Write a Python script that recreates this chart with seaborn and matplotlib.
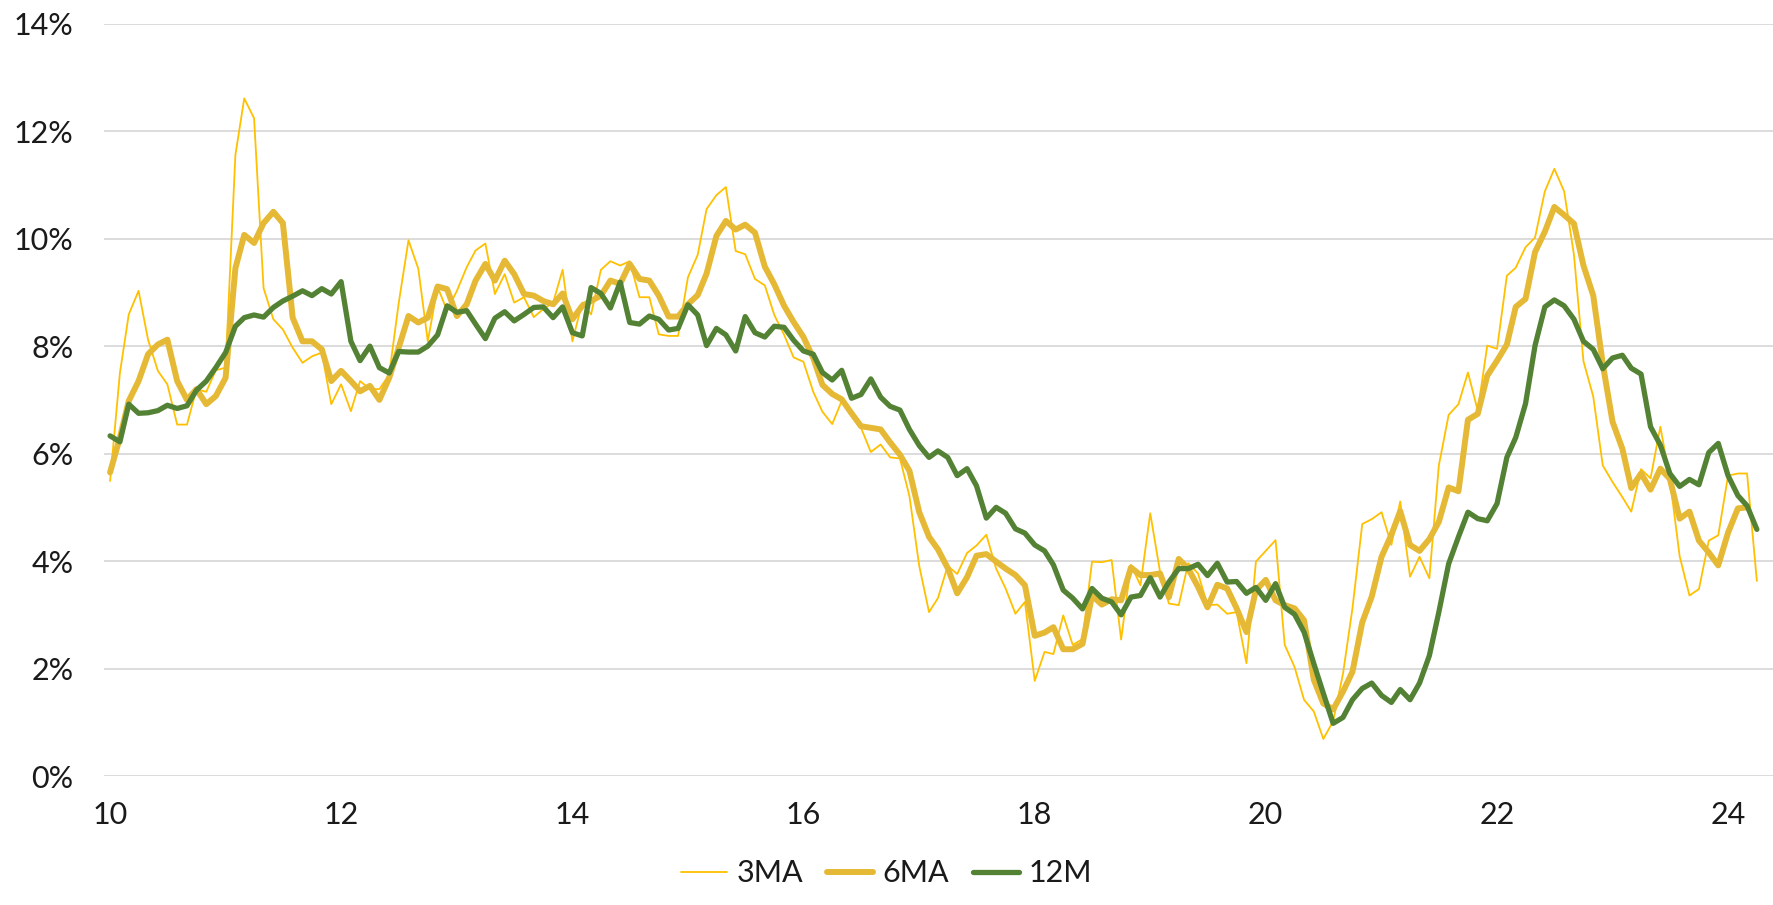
import numpy as np
import pandas as pd
import matplotlib
matplotlib.use('Agg')
import matplotlib.pyplot as plt
import matplotlib.dates as mdates
from matplotlib.ticker import FuncFormatter, MultipleLocator
import seaborn as sns

# monthly, Jan 2010 - Apr 2024
months = pd.date_range('2010-01-01', periods=172, freq='MS')

ma3 = [5.49, 7.50, 8.59, 9.03, 8.12, 7.54, 7.29, 6.54, 6.54, 7.20,
       7.15, 7.55, 7.60, 11.56, 12.61, 12.24, 9.08, 8.50, 8.31, 7.97,
       7.69, 7.81, 7.88, 6.92, 7.29, 6.79, 7.35, 7.20, 7.20, 7.47,
       8.80, 9.97, 9.44, 8.09, 9.10, 8.66, 9.03, 9.47, 9.78, 9.91,
       8.97, 9.34, 8.81, 8.91, 8.54, 8.69, 8.81, 9.42, 8.09, 8.81,
       8.59, 9.42, 9.58, 9.50, 9.58, 8.91, 8.91, 8.22, 8.19, 8.19,
       9.28, 9.70, 10.55, 10.81, 10.96, 9.77, 9.71, 9.25, 9.13, 8.58,
       8.21, 7.79, 7.71, 7.15, 6.78, 6.55, 6.98, 6.71, 6.48, 6.03,
       6.17, 5.93, 5.91, 5.21, 3.91, 3.05, 3.31, 3.91, 3.76, 4.15,
       4.29, 4.49, 3.86, 3.49, 3.02, 3.24, 1.77, 2.31, 2.27, 2.99,
       2.44, 2.55, 3.99, 3.98, 4.02, 2.54, 3.93, 3.55, 4.89, 3.80,
       3.21, 3.18, 3.96, 3.77, 3.18, 3.19, 3.02, 3.05, 2.10, 3.99,
       4.19, 4.39, 2.44, 2.03, 1.42, 1.20, 0.69, 1.02, 1.90, 3.12,
       4.69, 4.78, 4.91, 4.30, 5.11, 3.71, 4.08, 3.68, 5.78, 6.72,
       6.92, 7.51, 6.80, 8.01, 7.95, 9.31, 9.46, 9.84, 10.02, 10.88,
       11.30, 10.88, 9.70, 7.72, 7.06, 5.78, 5.47, 5.19, 4.92, 5.71,
       5.54, 6.50, 5.53, 4.09, 3.36, 3.48, 4.38, 4.48, 5.59, 5.63,
       5.63, 3.63]

ma6 = [5.65, 6.30, 6.98, 7.35, 7.85, 8.03, 8.12, 7.35, 7.00, 7.20,
       6.92, 7.07, 7.41, 9.45, 10.07, 9.92, 10.29, 10.50, 10.29, 8.53,
       8.09, 8.09, 7.94, 7.35, 7.54, 7.35, 7.16, 7.26, 7.00, 7.41,
       7.97, 8.56, 8.44, 8.53, 9.11, 9.06, 8.56, 8.78, 9.22, 9.53,
       9.22, 9.59, 9.34, 8.97, 8.94, 8.84, 8.78, 8.98, 8.50, 8.75,
       8.84, 8.94, 9.22, 9.16, 9.53, 9.25, 9.22, 8.94, 8.55, 8.55,
       8.78, 8.95, 9.35, 10.05, 10.33, 10.17, 10.26, 10.11, 9.48, 9.15,
       8.75, 8.45, 8.17, 7.78, 7.28, 7.11, 7.01, 6.75, 6.51, 6.48,
       6.45, 6.21, 5.98, 5.68, 4.91, 4.45, 4.22, 3.87, 3.40, 3.70,
       4.10, 4.13, 3.99, 3.86, 3.74, 3.55, 2.61, 2.67, 2.77, 2.36,
       2.36, 2.46, 3.36, 3.19, 3.29, 3.27, 3.88, 3.74, 3.74, 3.77,
       3.33, 4.04, 3.86, 3.52, 3.14, 3.56, 3.49, 3.12, 2.68, 3.46,
       3.65, 3.27, 3.18, 3.12, 2.90, 1.79, 1.35, 1.24, 1.57, 1.94,
       2.86, 3.34, 4.08, 4.49, 4.93, 4.30, 4.19, 4.41, 4.73, 5.37,
       5.30, 6.63, 6.74, 7.45, 7.73, 8.03, 8.73, 8.88, 9.75, 10.13,
       10.59, 10.44, 10.28, 9.50, 8.94, 7.67, 6.59, 6.09, 5.36, 5.63,
       5.33, 5.72, 5.53, 4.79, 4.92, 4.38, 4.16, 3.92, 4.53, 4.98,
       5.00, np.nan]

m12 = [6.33, 6.22, 6.92, 6.75, 6.76, 6.80, 6.90, 6.84, 6.89, 7.18,
       7.35, 7.60, 7.88, 8.37, 8.53, 8.58, 8.54, 8.72, 8.84, 8.93,
       9.03, 8.94, 9.07, 8.97, 9.20, 8.09, 7.73, 8.00, 7.60, 7.50,
       7.90, 7.89, 7.89, 8.00, 8.21, 8.75, 8.63, 8.66, 8.41, 8.14,
       8.52, 8.64, 8.47, 8.59, 8.72, 8.73, 8.53, 8.73, 8.25, 8.19,
       9.09, 8.98, 8.71, 9.19, 8.44, 8.41, 8.56, 8.50, 8.30, 8.33,
       8.77, 8.58, 8.01, 8.33, 8.21, 7.91, 8.55, 8.25, 8.17, 8.37,
       8.35, 8.11, 7.91, 7.85, 7.51, 7.37, 7.55, 7.03, 7.10, 7.39,
       7.05, 6.88, 6.81, 6.45, 6.15, 5.93, 6.05, 5.93, 5.59, 5.72,
       5.40, 4.80, 5.00, 4.89, 4.60, 4.52, 4.30, 4.19, 3.93, 3.46,
       3.31, 3.11, 3.49, 3.31, 3.24, 3.00, 3.33, 3.36, 3.69, 3.33,
       3.61, 3.86, 3.86, 3.94, 3.73, 3.96, 3.61, 3.62, 3.40, 3.51,
       3.27, 3.58, 3.14, 3.01, 2.68, 2.09, 1.54, 0.98, 1.09, 1.42,
       1.63, 1.73, 1.50, 1.37, 1.61, 1.42, 1.73, 2.24, 3.05, 3.95,
       4.45, 4.91, 4.79, 4.75, 5.07, 5.93, 6.30, 6.93, 8.01, 8.73,
       8.86, 8.75, 8.50, 8.09, 7.94, 7.58, 7.78, 7.83, 7.59, 7.48,
       6.50, 6.16, 5.63, 5.39, 5.52, 5.42, 6.02, 6.19, 5.59, 5.22,
       5.03, 4.59]

sns.set_style('white')
plt.rcParams['font.family'] = ['Lato', 'DejaVu Sans']

fig = plt.figure(figsize=(17.73, 9.05), dpi=100)
ax = fig.add_axes([0.0587, 0.1425, 0.9413, 0.8313])

line_kw = dict(solid_joinstyle='round', solid_capstyle='round')
sns.lineplot(x=months, y=ma3, ax=ax, color='#FFC000', linewidth=1.3,
             label='3MA', estimator=None, **line_kw)
sns.lineplot(x=months, y=ma6, ax=ax, color='#E5B935', linewidth=4.3,
             label='6MA', estimator=None, **line_kw)
sns.lineplot(x=months, y=m12, ax=ax, color='#548235', linewidth=3.8,
             label='12M', estimator=None, **line_kw)

ax.set_ylim(0, 14)
ax.set_xlim(pd.Timestamp('2009-12-13'), pd.Timestamp('2024-05-22'))
ax.yaxis.set_major_locator(MultipleLocator(2))
ax.yaxis.set_major_formatter(FuncFormatter(lambda v, p: f'{v:.0f}%'))
ax.xaxis.set_major_locator(mdates.YearLocator(2))
ax.xaxis.set_major_formatter(mdates.DateFormatter('%y'))

ax.grid(axis='y', color='#D9D9D9', linewidth=1.3)
ax.grid(axis='x', visible=False)
ax.set_axisbelow(True)
for s in ax.spines.values():
    s.set_visible(False)
ax.tick_params(axis='y', length=0, pad=22, labelsize=22, labelcolor='#1A1A1A')
ax.tick_params(axis='x', length=0, pad=18, labelsize=22, labelcolor='#1A1A1A')
ax.set_xlabel('')
ax.set_ylabel('')

ax.get_legend().remove()
handles, labels = ax.get_legend_handles_labels()
fig.legend(handles, labels, loc='center', bbox_to_anchor=(0.5, 0.035),
           ncol=3, frameon=False, fontsize=22, handlelength=1.5,
           handletextpad=0.3, columnspacing=0.8, labelcolor='#1A1A1A')

plt.savefig('out.png', dpi=100)
